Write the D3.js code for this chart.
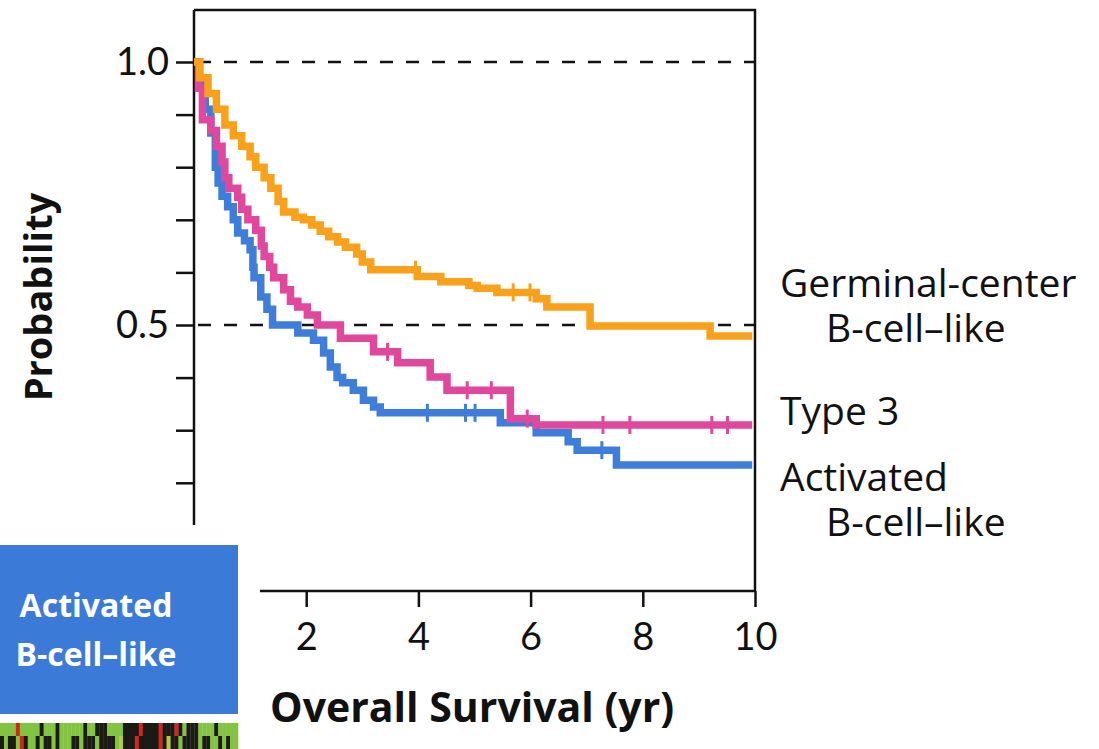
<!DOCTYPE html>
<html>
<head>
<meta charset="utf-8">
<script src="https://cdn.jsdelivr.net/npm/d3@7"></script>
<style>
  html, body { margin: 0; padding: 0; background: #fff; }
  svg { display: block; }
</style>
</head>
<body>
<div id="chart"></div>
<script>
// step data (time in years, survival probability)
const gcbTime = [0, 0.1, 0.25, 0.4, 0.55, 0.7, 0.85, 1.0, 1.1, 1.25, 1.37, 1.5, 1.6, 1.8, 1.95, 2.1, 2.25, 2.4, 2.56, 2.7, 2.9, 3.0, 3.15, 3.98, 4.4, 4.9, 5.05, 5.4, 6.1, 6.29, 7.06, 9.2, 9.95];
const gcbSurv = [1.0, 0.97, 0.94, 0.91, 0.88, 0.86, 0.84, 0.82, 0.80, 0.78, 0.76, 0.735, 0.715, 0.705, 0.70, 0.69, 0.678, 0.668, 0.658, 0.648, 0.635, 0.62, 0.605, 0.592, 0.582, 0.575, 0.57, 0.562, 0.55, 0.534, 0.498, 0.479, 0.479];
const gcbCensor = [3.95, 5.69, 5.99];

const type3Time = [0, 0.08, 0.15, 0.3, 0.4, 0.5, 0.55, 0.62, 0.78, 0.85, 0.96, 1.1, 1.2, 1.25, 1.35, 1.42, 1.6, 1.72, 1.85, 2.02, 2.2, 2.61, 3.2, 3.63, 4.21, 4.51, 5.64, 6.1, 9.95];
const type3Surv = [1.0, 0.95, 0.89, 0.87, 0.84, 0.81, 0.78, 0.76, 0.743, 0.72, 0.70, 0.68, 0.65, 0.63, 0.61, 0.59, 0.567, 0.545, 0.534, 0.519, 0.50, 0.475, 0.449, 0.428, 0.401, 0.376, 0.322, 0.31, 0.31];
const type3Censor = [3.45, 4.87, 5.3, 5.94, 7.29, 7.77, 9.23, 9.51];

const abcTime = [0, 0.1, 0.2, 0.3, 0.38, 0.43, 0.5, 0.6, 0.7, 0.78, 0.9, 1.0, 1.05, 1.07, 1.19, 1.3, 1.4, 1.85, 2.13, 2.31, 2.43, 2.55, 2.65, 2.84, 3.02, 3.2, 3.32, 5.46, 6.1, 6.67, 6.83, 7.53, 9.95];
const abcSurv = [1.0, 0.96, 0.91, 0.865, 0.80, 0.77, 0.745, 0.725, 0.70, 0.675, 0.66, 0.643, 0.61, 0.59, 0.553, 0.53, 0.50, 0.485, 0.471, 0.447, 0.42, 0.40, 0.39, 0.376, 0.357, 0.344, 0.333, 0.314, 0.295, 0.278, 0.262, 0.234, 0.234];
const abcCensor = [4.16, 4.84, 5.01, 7.27];

const seriesLabels = [["Germinal-center", "B-cell–like"], ["Type 3"], ["Activated", "B-cell–like"]];
const seriesColors = ["#f9a11b", "#e0489d", "#3f7ddb"];

const xTicks = [2, 4, 6, 8, 10];
const yTicks = [0.1, 0.2, 0.3, 0.4, 0.5, 0.6, 0.7, 0.8, 0.9, 1.0];
const yLabelled = [0.5, 1.0];
const refLines = [0.5, 1.0];

// gene-expression strip under the blue panel: g green, k black, r red, y yellow
const heatTop = "ggggrgggggkgggkggggggkggkkkggggkkkkrkkkkrkkkrkgkkkggggkggggg";
const heatBottom = "kgkkgrkggkgkkgkgggkkgkkkgkkkkgykkkrkkkkkrkykkgkkkkgkkggkgkgg";
const heatColors = { g: "#82c341", k: "#1c1a14", r: "#d3261f", y: "#b9c93a" };

const W = 1099, H = 749;
const labelFont = "'Open Sans', Lato, sans-serif";
const svg = d3.select("#chart").append("svg")
  .attr("width", W).attr("height", H)
  .style("font-family", labelFont);

svg.append("rect").attr("width", W).attr("height", H).attr("fill", "#fff");

const x = d3.scaleLinear().domain([0, 10]).range([194, 755]);
const y = d3.scaleLinear().domain([0, 1]).range([588, 62]);
const plotTop = 10, plotBottom = 591;

// plot frame: top and right
svg.append("path")
  .attr("d", `M${x(0)},${plotTop}H${x(10)}V${plotBottom}`)
  .attr("fill", "none").attr("stroke", "#111").attr("stroke-width", 2.5);

// dashed reference lines
svg.selectAll("line.ref")
  .data(refLines)
  .join("line")
  .attr("class", "ref")
  .attr("x1", x(0)).attr("x2", x(10))
  .attr("y1", d => y(d)).attr("y2", d => y(d))
  .attr("stroke", "#111").attr("stroke-width", 2.5)
  .attr("stroke-dasharray", "13,13").attr("stroke-dashoffset", -4);

// y axis
const yAxis = svg.append("g")
  .attr("transform", `translate(${x(0)},0)`)
  .call(d3.axisLeft(y).tickValues(yTicks).tickSize(18).tickPadding(8)
    .tickFormat(d => yLabelled.some(v => Math.abs(v - d) < 1e-9) ? d3.format(".1f")(d) : ""));
yAxis.select(".domain").attr("d", `M0,${plotTop}V${plotBottom}`).attr("stroke-width", 2.5).attr("stroke", "#111");
yAxis.selectAll(".tick line").attr("stroke-width", 2.5).attr("stroke", "#111");
yAxis.selectAll(".tick text")
  .attr("font-size", 38).attr("fill", "#111").attr("font-family", "Lato, sans-serif")
  .attr("x", -25).attr("dy", "0.34em");

// x axis
const xAxis = svg.append("g")
  .attr("transform", `translate(0,${plotBottom})`)
  .call(d3.axisBottom(x).tickValues(xTicks).tickSize(16).tickPadding(14));
xAxis.select(".domain").attr("d", `M${x(0)},0H${x(10)}`).attr("stroke-width", 2.5).attr("stroke", "#111");
xAxis.selectAll(".tick line").attr("stroke-width", 2.5).attr("stroke", "#111");
xAxis.selectAll(".tick text")
  .attr("font-size", 38).attr("fill", "#111").attr("font-family", "Lato, sans-serif")
  .attr("y", 59).attr("dy", 0);

// survival curves
const series = [
  { time: gcbTime, surv: gcbSurv, censor: gcbCensor },
  { time: type3Time, surv: type3Surv, censor: type3Censor },
  { time: abcTime, surv: abcSurv, censor: abcCensor },
].map((s, i) => ({ ...s, label: seriesLabels[i], color: seriesColors[i] }));

const line = d3.line()
  .x(d => x(d[0])).y(d => y(d[1]))
  .curve(d3.curveStepAfter);

const bis = d3.bisector(d => d).right;

// draw bottom-most first so orange sits on top like the original
[2, 1, 0].forEach(i => {
  const s = series[i];
  const pts = s.time.map((t, j) => [t, s.surv[j]]);
  svg.append("path")
    .datum(pts)
    .attr("d", line)
    .attr("fill", "none")
    .attr("stroke", s.color)
    .attr("stroke-width", 7.5)
    .attr("stroke-linejoin", "miter");

  // censoring marks: survival at that time from the step data
  svg.selectAll(null)
    .data(s.censor)
    .join("line")
    .attr("x1", d => x(d)).attr("x2", d => x(d))
    .attr("y1", d => y(s.surv[bis(s.time, d) - 1]) - 9)
    .attr("y2", d => y(s.surv[bis(s.time, d) - 1]) + 9)
    .attr("stroke", s.color)
    .attr("stroke-width", 3);
});

// axis titles
svg.append("text")
  .attr("transform", "translate(52,297) rotate(-90)")
  .attr("text-anchor", "middle")
  .attr("font-size", 38).attr("font-weight", 700).attr("fill", "#111")
  .text("Probability");

svg.append("text")
  .attr("x", 270).attr("y", 722)
  .attr("font-size", 41).attr("font-weight", 700).attr("fill", "#111")
  .text("Overall Survival (yr)");

// curve labels on the right, one text per group, second line indented
const labelBaselines = [297, 425, 491];
svg.selectAll("text.lab")
  .data(series)
  .join("text")
  .attr("class", "lab")
  .attr("y", (d, i) => labelBaselines[i])
  .attr("font-size", 39).attr("fill", "#111")
  .selectAll("tspan")
  .data(d => d.label)
  .join("tspan")
  .attr("x", (d, j) => j === 0 ? 780 : 826)
  .attr("dy", (d, j) => j === 0 ? 0 : 45)
  .text(d => d);

// inset panel from the neighbouring figure that overlaps the corner
svg.append("rect")
  .attr("x", 0).attr("y", 525).attr("width", 260).attr("height", H - 525)
  .attr("fill", "#fff");
svg.append("rect")
  .attr("x", 0).attr("y", 545).attr("width", 238).attr("height", 169)
  .attr("fill", "#3c7ad7");
svg.append("text")
  .attr("y", 617).attr("text-anchor", "middle")
  .attr("font-size", 32).attr("font-weight", 700).attr("fill", "#fff")
  .selectAll("tspan")
  .data(seriesLabels[2])
  .join("tspan")
  .attr("x", 96)
  .attr("dy", (d, j) => j === 0 ? 0 : 49)
  .text(d => d);

const hx = d3.scaleBand().domain(d3.range(heatTop.length)).range([0, 238]);
[[heatTop, 723, 13], [heatBottom, 736, 13]].forEach(([row, yy, hh]) => {
  svg.selectAll(null)
    .data(row.split(""))
    .join("rect")
    .attr("x", (d, i) => hx(i)).attr("y", yy)
    .attr("width", hx.bandwidth() + 0.3).attr("height", hh)
    .attr("fill", d => heatColors[d]);
});
</script>
</body>
</html>
